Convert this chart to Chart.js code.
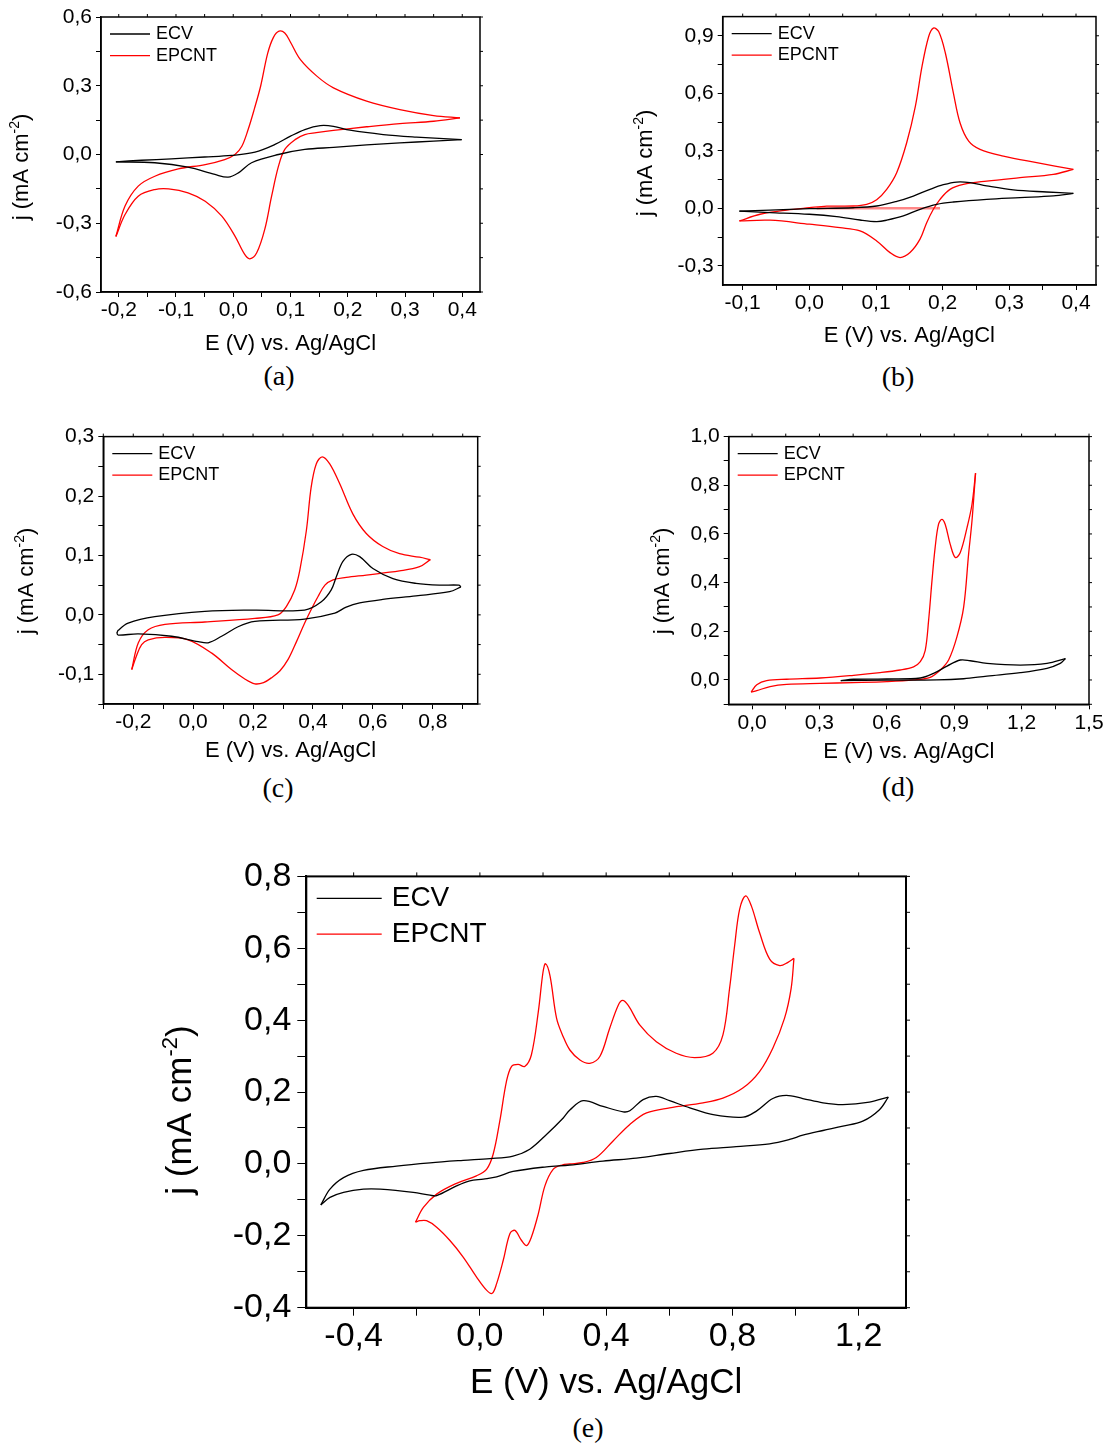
<!DOCTYPE html>
<html>
<head>
<meta charset="utf-8">
<title>Cyclic voltammograms ECV / EPCNT</title>
<script src="https://cdn.jsdelivr.net/npm/chart.js@4.4.0/dist/chart.umd.min.js"></script>
<style>
  body { margin: 0; background: #fff; }
  #page { position: relative; width: 1110px; height: 1443px; background: #fff; overflow: hidden; }
  #page canvas { position: absolute; }
  .cap {
    position: absolute;
    font-family: 'Liberation Serif', 'Times New Roman', serif;
    font-size: 28px;
    color: #000;
    transform: translate(-50%, -50%);
    white-space: nowrap;
  }
</style>
</head>
<body>
<div id="page"></div>
<script>
// Curves as [E (V), j (mA cm-2)] in scan order

// (a)
const aEcv = [
    [-0.205, -0.032], [-0.16, -0.025], [-0.108, -0.019], [-0.05, -0.011], [-0.003, -0.004], [0.038, 0.01],
    [0.073, 0.044], [0.1, 0.08], [0.125, 0.109], [0.152, 0.126], [0.175, 0.123], [0.204, 0.106],
    [0.262, 0.087], [0.32, 0.076], [0.399, 0.065],
    [0.35, 0.058], [0.291, 0.051], [0.233, 0.042], [0.175, 0.031], [0.125, 0.022], [0.079, 0.0],
    [0.032, -0.036], [0.009, -0.08], [-0.009, -0.099], [-0.032, -0.087], [-0.079, -0.055], [-0.137, -0.036],
    [-0.205, -0.032]
];
const aEpcnt = [
    [-0.205, -0.358], [-0.189, -0.225], [-0.166, -0.138], [-0.137, -0.095], [-0.096, -0.063], [-0.049, -0.044],
    [-0.015, -0.022], [0.003, 0], [0.015, 0.036], [0.026, 0.109], [0.037, 0.2], [0.048, 0.3], [0.06, 0.44],
    [0.07, 0.51], [0.08, 0.538], [0.09, 0.53], [0.1, 0.49], [0.117, 0.415], [0.146, 0.342], [0.175, 0.291],
    [0.233, 0.233], [0.291, 0.196], [0.35, 0.17], [0.396, 0.16],
    [0.35, 0.145], [0.291, 0.135], [0.233, 0.121], [0.175, 0.105], [0.145, 0.095], [0.125, 0.087],
    [0.108, 0.065], [0.09, 0.022], [0.079, -0.051], [0.067, -0.182], [0.055, -0.327], [0.041, -0.429],
    [0.029, -0.455], [0.02, -0.436], [0.003, -0.356], [-0.02, -0.269], [-0.049, -0.204], [-0.079, -0.167],
    [-0.113, -0.15], [-0.137, -0.153], [-0.166, -0.182], [-0.189, -0.262], [-0.205, -0.358]
];
const aXTicks = [-0.2, -0.1, 0, 0.1, 0.2, 0.3, 0.4];
const aYTicks = [-0.6, -0.3, 0, 0.3, 0.6];

// (b)
const bEcv = [
    [-0.105, -0.015], [-0.059, -0.009], [0, -0.002], [0.066, 0.003], [0.101, 0.012], [0.131, 0.036],
    [0.156, 0.064], [0.181, 0.099], [0.201, 0.123], [0.221, 0.137], [0.241, 0.134], [0.266, 0.117],
    [0.306, 0.096], [0.356, 0.085], [0.396, 0.078],
    [0.366, 0.065], [0.316, 0.056], [0.266, 0.047], [0.216, 0.033], [0.191, 0.021], [0.166, -0.005],
    [0.141, -0.04], [0.116, -0.062], [0.101, -0.069], [0.076, -0.061], [0.041, -0.043], [0, -0.031],
    [-0.059, -0.022], [-0.105, -0.015]
];
const bEpcnt = [
    [-0.105, -0.066], [-0.074, -0.031], [-0.034, -0.009], [0, 0.003], [0.026, 0.011], [0.066, 0.012],
    [0.086, 0.021], [0.101, 0.045], [0.116, 0.099], [0.131, 0.186], [0.146, 0.342], [0.159, 0.532],
    [0.169, 0.74], [0.179, 0.896], [0.186, 0.94], [0.194, 0.922], [0.204, 0.81], [0.216, 0.602],
    [0.226, 0.446], [0.239, 0.35], [0.256, 0.307], [0.291, 0.272], [0.341, 0.238], [0.396, 0.203],
    [0.366, 0.177], [0.316, 0.16], [0.266, 0.142], [0.231, 0.125], [0.211, 0.099], [0.196, 0.047],
    [0.186, -0.005], [0.176, -0.075], [0.166, -0.161], [0.151, -0.231], [0.136, -0.257], [0.121, -0.231],
    [0.101, -0.17], [0.076, -0.118], [0.046, -0.101], [0, -0.083], [-0.059, -0.062], [-0.105, -0.066]
];
const bFlat = [[0.011, 0], [0.196, 0]];
const bXTicks = [-0.1, 0, 0.1, 0.2, 0.3, 0.4];
const bYTicks = [-0.3, 0, 0.3, 0.6, 0.9];

// (c)
const cEcv = [
    [-0.255, -0.031], [-0.25, -0.026], [-0.217, -0.014], [-0.128, -0.003], [0.039, 0.006], [0.206, 0.008],
    [0.372, 0.008], [0.428, 0.022], [0.461, 0.042], [0.478, 0.064], [0.5, 0.09], [0.528, 0.102],
    [0.556, 0.098], [0.6, 0.078], [0.667, 0.061], [0.744, 0.053], [0.822, 0.05], [0.887, 0.05],
    [0.894, 0.047],
    [0.856, 0.039], [0.744, 0.032], [0.633, 0.026], [0.556, 0.02], [0.511, 0.013], [0.473, 0.003],
    [0.372, -0.007], [0.206, -0.011], [0.15, -0.02], [0.095, -0.036], [0.05, -0.047], [0.017, -0.045],
    [-0.072, -0.036], [-0.183, -0.032], [-0.25, -0.034], [-0.255, -0.031]
];
const cEpcnt = [
    [-0.205, -0.092], [-0.183, -0.047], [-0.15, -0.025], [-0.094, -0.016], [0.039, -0.012], [0.206, -0.006],
    [0.283, 0], [0.311, 0.014], [0.339, 0.042], [0.356, 0.075], [0.378, 0.142], [0.394, 0.215],
    [0.411, 0.254], [0.431, 0.266], [0.456, 0.254], [0.489, 0.221], [0.533, 0.17], [0.578, 0.137],
    [0.633, 0.115], [0.689, 0.103], [0.756, 0.097], [0.792, 0.093],
    [0.756, 0.081], [0.689, 0.074], [0.578, 0.067], [0.511, 0.063], [0.467, 0.059], [0.44, 0.05],
    [0.417, 0.031], [0.395, 0.01], [0.372, -0.014], [0.345, -0.045], [0.317, -0.075], [0.29, -0.094],
    [0.261, -0.106], [0.235, -0.114], [0.206, -0.116], [0.17, -0.107], [0.128, -0.092], [0.061, -0.064],
    [-0.017, -0.042], [-0.094, -0.038], [-0.15, -0.042], [-0.172, -0.05], [-0.19, -0.07], [-0.205, -0.092]
];
const cXTicks = [-0.2, 0, 0.2, 0.4, 0.6, 0.8];
const cYTicks = [-0.1, 0, 0.1, 0.2, 0.3];

// (d)
const dEcv = [
    [0.395, -0.003], [0.451, 0.003], [0.6, 0.004], [0.749, 0.008], [0.808, 0.027], [0.868, 0.057],
    [0.927, 0.082], [0.971, 0.079], [1.046, 0.068], [1.194, 0.061], [1.313, 0.068], [1.395, 0.088],
    [1.372, 0.068], [1.313, 0.048], [1.194, 0.03], [1.046, 0.016], [0.942, 0.005], [0.823, 0],
    [0.6, -0.001], [0.395, -0.003]
];
const dEpcnt = [
    [-0.004, -0.05], [0.021, -0.02], [0.065, -0.003], [0.154, 0.003], [0.303, 0.008], [0.452, 0.019],
    [0.57, 0.03], [0.659, 0.041], [0.719, 0.054], [0.749, 0.075], [0.771, 0.122], [0.786, 0.245],
    [0.801, 0.408], [0.815, 0.544], [0.83, 0.639], [0.845, 0.66], [0.86, 0.639], [0.882, 0.558],
    [0.905, 0.503], [0.927, 0.524], [0.957, 0.626], [0.979, 0.721], [0.995, 0.85],
    [0.979, 0.653], [0.964, 0.517], [0.942, 0.299], [0.912, 0.177], [0.875, 0.082], [0.838, 0.041],
    [0.793, 0.011], [0.719, 0], [0.6, -0.007], [0.452, -0.011], [0.303, -0.014], [0.154, -0.018],
    [0.08, -0.027], [0.021, -0.044], [-0.004, -0.05]
];
const dXTicks = [0, 0.3, 0.6, 0.9, 1.2, 1.5];
const dYTicks = [0, 0.2, 0.4, 0.6, 0.8, 1.0];

// (e)
const eEcv = [
    [-0.504, -0.114], [-0.475, -0.07], [-0.432, -0.038], [-0.369, -0.018], [-0.264, -0.006], [-0.158, 0.003],
    [-0.053, 0.01], [0.032, 0.015], [0.105, 0.022], [0.158, 0.041], [0.211, 0.082], [0.264, 0.128],
    [0.285, 0.15], [0.327, 0.176], [0.39, 0.16], [0.454, 0.145], [0.475, 0.148], [0.517, 0.179],
    [0.559, 0.188], [0.601, 0.176], [0.665, 0.156], [0.739, 0.137], [0.834, 0.13], [0.876, 0.147],
    [0.928, 0.182], [0.971, 0.191], [1.023, 0.182], [1.087, 0.17], [1.15, 0.165], [1.234, 0.172],
    [1.294, 0.186],
    [1.266, 0.151], [1.213, 0.119], [1.15, 0.105], [1.087, 0.093], [1.023, 0.08], [0.981, 0.068],
    [0.918, 0.056], [0.812, 0.048], [0.707, 0.041], [0.601, 0.029], [0.496, 0.016], [0.39, 0.008],
    [0.285, -0.003], [0.211, -0.008], [0.105, -0.021], [0.053, -0.036], [0.011, -0.042], [-0.032, -0.047],
    [-0.074, -0.061], [-0.137, -0.088], [-0.158, -0.087], [-0.211, -0.079], [-0.316, -0.07],
    [-0.369, -0.07], [-0.432, -0.079], [-0.475, -0.093], [-0.504, -0.114]
];
const eEpcnt = [
    [-0.204, -0.162], [-0.179, -0.121], [-0.137, -0.084], [-0.074, -0.054], [-0.011, -0.033], [0.021, -0.015],
    [0.042, 0.027], [0.063, 0.119], [0.084, 0.229], [0.1, 0.271], [0.121, 0.277], [0.142, 0.271],
    [0.163, 0.303], [0.185, 0.423], [0.2, 0.534], [0.208, 0.557], [0.222, 0.524], [0.243, 0.405],
    [0.264, 0.354], [0.285, 0.317], [0.317, 0.289], [0.348, 0.28], [0.38, 0.299], [0.411, 0.377],
    [0.438, 0.441], [0.452, 0.455], [0.47, 0.441], [0.507, 0.386], [0.559, 0.34], [0.622, 0.308],
    [0.68, 0.296], [0.738, 0.308], [0.77, 0.359], [0.791, 0.488], [0.807, 0.607], [0.823, 0.709],
    [0.842, 0.746], [0.86, 0.718], [0.886, 0.644], [0.918, 0.57], [0.95, 0.552], [0.976, 0.561],
    [0.995, 0.572],
    [0.986, 0.488], [0.965, 0.405], [0.928, 0.322], [0.886, 0.257], [0.833, 0.211], [0.77, 0.183],
    [0.707, 0.17], [0.601, 0.156], [0.528, 0.142], [0.475, 0.11], [0.422, 0.064], [0.369, 0.018],
    [0.327, 0.004], [0.285, 0.0], [0.26, -0.003], [0.232, -0.015], [0.206, -0.061], [0.185, -0.139],
    [0.163, -0.204], [0.148, -0.227], [0.132, -0.213], [0.111, -0.185], [0.095, -0.194], [0.074, -0.268],
    [0.053, -0.333], [0.039, -0.36], [0.021, -0.351], [-0.011, -0.314], [-0.053, -0.259], [-0.095, -0.213],
    [-0.137, -0.176], [-0.169, -0.158], [-0.19, -0.158], [-0.204, -0.162]
];
const eXTicks = [-0.4, 0, 0.4, 0.8, 1.2];
const eYTicks = [-0.4, -0.2, 0, 0.2, 0.4, 0.6, 0.8];

const RED = '#ff0000';
const BLACK = '#000000';
const FONT = "'Liberation Sans', Arial, Helvetica, sans-serif";

Chart.defaults.font.family = FONT;
Chart.defaults.color = '#000';

// Panel layout: plot box [left, top, right, bottom] and canvas position, page pixels
const panels = [
    {
        box: [101, 17, 480, 292], canvas: [0, 0, 500], titleY: 344,
        xMin: -0.231, xMax: 0.431, yMin: -0.6, yMax: 0.6, xTicks: aXTicks, yTicks: aYTicks,
        series: [
            { label: 'ECV', color: BLACK, points: aEcv },
            { label: 'EPCNT', color: RED, points: aEpcnt }
        ],
        yTitle: [22, 167], caption: ['(a)', 279, 376]
    },
    {
        box: [722.7, 16, 1096, 285], canvas: [620, 0, 490], titleY: 336,
        xMin: -0.13, xMax: 0.43, yMin: -0.4, yMax: 1.0, xTicks: bXTicks, yTicks: bYTicks,
        series: [
            { label: 'ECV', color: BLACK, points: bEcv },
            { label: 'EPCNT', color: RED, points: bEpcnt },
            { color: 'rgba(255, 70, 70, 0.65)', points: bFlat, width: 2.4 }
        ],
        yTitle: [646, 163], caption: ['(b)', 898, 377]
    },
    {
        box: [103.3, 435.3, 477.7, 704], canvas: [0, 420, 490], titleY: 751,
        xMin: -0.3, xMax: 0.95, yMin: -0.15, yMax: 0.3, xTicks: cXTicks, yTicks: cYTicks,
        series: [
            { label: 'ECV', color: BLACK, points: cEcv },
            { label: 'EPCNT', color: RED, points: cEpcnt }
        ],
        yTitle: [27, 581], caption: ['(c)', 278, 788]
    },
    {
        box: [728.7, 435.7, 1089, 704.3], canvas: [620, 420, 490], titleY: 752,
        xMin: -0.104, xMax: 1.5, yMin: -0.1, yMax: 1.0, xTicks: dXTicks, yTicks: dYTicks,
        series: [
            { label: 'ECV', color: BLACK, points: dEcv },
            { label: 'EPCNT', color: RED, points: dEpcnt }
        ],
        yTitle: [663, 581], caption: ['(d)', 898, 787]
    },
    {
        box: [306.3, 874, 906, 1307.7], canvas: [150, 850, 800], titleY: 1383,
        xMin: -0.55, xMax: 1.35, yMin: -0.4, yMax: 0.8, xTicks: eXTicks, yTicks: eYTicks,
        series: [
            { label: 'ECV', color: BLACK, points: eEcv },
            { label: 'EPCNT', color: RED, points: eEpcnt }
        ],
        yTitle: [182, 1110], caption: ['(e)', 588, 1428],
        big: true
    }
];

// Styles for the four small panels and the large one
const smallStyle = {
    tickFont: 21, titleFont: 22, lineWidth: 1.3, axisWidth: 1.5,
    xTick: 5, xPad: 1, yTick: 5, yPad: 4, mirror: 3,
    legend: { x: 9, len: 40, tx: 55, y: 17, dy: 21.6, font: 18 }
};
const bigStyle = {
    tickFont: 34, titleFont: 35, lineWidth: 1.3, axisWidth: 2,
    xTick: 8, xPad: 1, yTick: 9, yPad: 6, mirror: 4,
    legend: { x: 10.4, len: 65, tx: 85.4, y: 22, dy: 35.7, font: 28 }
};

function withMinors(majors, min, max) {
    const half = (majors[1] - majors[0]) / 2;
    const vals = [majors[0] - half];
    majors.forEach(m => { vals.push(m, m + half); });
    return vals
        .map(v => Math.round(v * 1e6) / 1e6)
        .filter(v => v >= min - 1e-9 && v <= max + 1e-9);
}

function fmt(v) {
    return (Math.abs(v) < 1e-9 ? 0 : v).toFixed(1).replace('.', ',');
}

// Split a closed CV loop at the switching potentials so the vertices stay sharp
function splitSweeps(points) {
    const segs = [];
    let seg = [points[0]];
    let dir = 0;
    for (let i = 1; i < points.length; i++) {
        const d = Math.sign(points[i][0] - points[i - 1][0]);
        if (d !== 0 && dir !== 0 && d !== dir) {
            segs.push(seg);
            seg = [points[i - 1]];
        }
        if (d !== 0) dir = d;
        seg.push(points[i]);
    }
    segs.push(seg);
    return segs;
}

function axisOptions(p, st, axis) {
    const isX = axis === 'x';
    const majors = isX ? p.xTicks : p.yTicks;
    const min = isX ? p.xMin : p.yMin;
    const max = isX ? p.xMax : p.yMax;
    const all = withMinors(majors, min, max);
    const isMajor = v => majors.some(m => Math.abs(m - v) < 1e-6);
    return {
        type: 'linear',
        min: min,
        max: max,
        afterBuildTicks: s => { s.ticks = all.map(v => ({ value: v })); },
        afterFit: s => {
            if (isX) s.height = p.xh; else s.width = p.yw;
        },
        grid: {
            drawOnChartArea: false,
            drawTicks: true,
            tickLength: isX ? st.xTick : st.yTick,
            color: '#000',
            lineWidth: 1
        },
        border: { display: true, color: '#000', width: st.axisWidth },
        ticks: {
            autoSkip: false,
            maxRotation: 0,
            padding: isX ? st.xPad : st.yPad,
            color: '#000',
            font: { size: st.tickFont },
            callback: v => (isMajor(v) ? fmt(v) : '')
        },
        title: isX
            ? { display: true, text: 'E (V) vs. Ag/AgCl', color: '#000', font: { size: st.titleFont }, padding: 0 }
            : { display: false }
    };
}

// Box frame, mirrored ticks, in-plot legend and the y title with its superscript
function framePlugin(p, st) {
    return {
        id: 'frame',
        afterDraw(chart) {
            const { ctx, chartArea: a, scales } = chart;
            const x = scales.x, y = scales.y;
            ctx.save();
            ctx.strokeStyle = '#000';
            ctx.lineWidth = st.axisWidth;
            ctx.strokeRect(a.left, a.top, a.right - a.left, a.bottom - a.top);

            ctx.lineWidth = 1;
            ctx.beginPath();
            x.ticks.forEach(t => {
                const px = x.getPixelForValue(t.value);
                ctx.moveTo(px, a.top);
                ctx.lineTo(px, a.top - st.mirror);
            });
            y.ticks.forEach(t => {
                const py = y.getPixelForValue(t.value);
                ctx.moveTo(a.right, py);
                ctx.lineTo(a.right + st.mirror, py);
            });
            ctx.stroke();

            // legend
            const lg = st.legend;
            ctx.font = lg.font + 'px ' + FONT;
            ctx.textBaseline = 'middle';
            ctx.textAlign = 'left';
            ctx.fillStyle = '#000';
            p.series.filter(s => s.label).forEach((s, i) => {
                const yy = a.top + lg.y + i * lg.dy;
                ctx.strokeStyle = s.color;
                ctx.lineWidth = st.lineWidth;
                ctx.beginPath();
                ctx.moveTo(a.left + lg.x, yy);
                ctx.lineTo(a.left + lg.x + lg.len, yy);
                ctx.stroke();
                ctx.fillText(s.label, a.left + lg.tx, yy);
            });

            // y axis title: j (mA cm^-2)
            const size = st.titleFont;
            const supSize = Math.round(size * 0.62);
            const main = size + 'px ' + FONT;
            const sup = supSize + 'px ' + FONT;
            ctx.translate(p.yTitle[0] - p.canvas[0], p.yTitle[1] - p.canvas[1]);
            ctx.rotate(-Math.PI / 2);
            ctx.textBaseline = 'alphabetic';
            ctx.font = main;
            const w1 = ctx.measureText('j (mA cm').width;
            const w3 = ctx.measureText(')').width;
            ctx.font = sup;
            const w2 = ctx.measureText('-2').width;
            let tx = -(w1 + w2 + w3) / 2;
            const base = size * 0.27;
            ctx.font = main;
            ctx.fillText('j (mA cm', tx, base);
            tx += w1;
            ctx.font = sup;
            ctx.fillText('-2', tx, base - size * 0.42);
            tx += w2;
            ctx.font = main;
            ctx.fillText(')', tx, base);
            ctx.restore();
        }
    };
}

const page = document.getElementById('page');

function makePanel(p) {
    const st = p.big ? bigStyle : smallStyle;
    const [left, top, w] = p.canvas;
    const h = Math.round(p.titleY + 0.6 * st.titleFont - top);
    p.yw = p.box[0] - left;
    p.xh = top + h - p.box[3];

    const canvas = document.createElement('canvas');
    canvas.width = w;
    canvas.height = h;
    canvas.style.left = left + 'px';
    canvas.style.top = top + 'px';
    canvas.style.width = w + 'px';
    canvas.style.height = h + 'px';
    page.appendChild(canvas);

    const datasets = [];
    p.series.forEach(s => {
        splitSweeps(s.points).forEach(seg => {
            datasets.push({
                data: seg.map(([ex, jy]) => ({ x: ex, y: jy })),
                borderColor: s.color,
                borderWidth: s.width || st.lineWidth,
                showLine: true,
                pointRadius: 0,
                pointHoverRadius: 0,
                tension: 0.35,
                fill: false
            });
        });
    });

    new Chart(canvas, {
        type: 'scatter',
        data: { datasets },
        options: {
            responsive: false,
            animation: false,
            devicePixelRatio: 1,
            layout: {
                padding: { top: p.box[1] - top, right: left + w - p.box[2], left: 0, bottom: 0 }
            },
            plugins: {
                legend: { display: false },
                tooltip: { enabled: false }
            },
            scales: {
                x: axisOptions(p, st, 'x'),
                y: axisOptions(p, st, 'y')
            }
        },
        plugins: [framePlugin(p, st)]
    });

    const cap = document.createElement('div');
    cap.className = 'cap';
    cap.textContent = p.caption[0];
    cap.style.left = p.caption[1] + 'px';
    cap.style.top = p.caption[2] + 'px';
    page.appendChild(cap);
}

panels.forEach(makePanel);
</script>
</body>
</html>
